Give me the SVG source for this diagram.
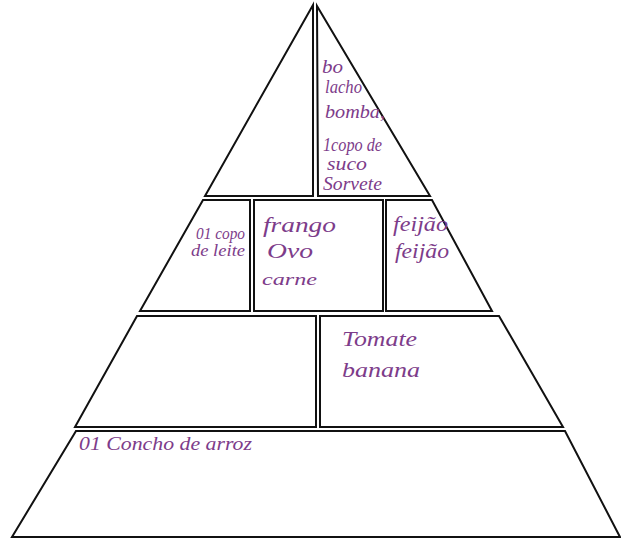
<svg xmlns="http://www.w3.org/2000/svg" width="621" height="540" viewBox="0 0 621 540">
<style>
.s{fill:none;stroke:#111;stroke-width:2;stroke-linejoin:miter}
.t{font-family:"Liberation Serif","DejaVu Serif",serif;font-style:italic;fill:#7d3c8a;font-size:17px}
.b{font-size:19px}
</style>
<rect width="621" height="540" fill="#fff"/>
<g id="tier1-left"><path class="s" d="M313,5 L205,196 L313,196 Z"/></g>
<g id="tier1-right"><path class="s" d="M317,6 L430,196 L318,196 Z"/>
<text class="t b" x="322" y="73" textLength="21" lengthAdjust="spacingAndGlyphs">bo</text>
<text class="t b" x="325" y="93" textLength="37" lengthAdjust="spacingAndGlyphs">lacho</text>
<text class="t b" x="325" y="118" textLength="60" lengthAdjust="spacingAndGlyphs">bomba,</text>
<text class="t b" x="323" y="151" textLength="59" lengthAdjust="spacingAndGlyphs">1copo de</text>
<text class="t b" x="327" y="170" textLength="40" lengthAdjust="spacingAndGlyphs">suco</text>
<text class="t b" x="323" y="190" textLength="59" lengthAdjust="spacingAndGlyphs">Sorvete</text>
</g>
<g id="tier2-left"><path class="s" d="M203,200 L250,200 L250,311 L140,311 Z"/>
<text class="t" x="196" y="239" textLength="49" lengthAdjust="spacingAndGlyphs">01 copo</text>
<text class="t" x="191" y="256" textLength="54" lengthAdjust="spacingAndGlyphs">de leite</text>
</g>
<g id="tier2-middle"><rect class="s" x="254" y="200" width="129" height="111"/>
<text class="t" x="263" y="232" textLength="73" lengthAdjust="spacingAndGlyphs" style="font-size:21px">frango</text>
<text class="t" x="267" y="258" textLength="46" lengthAdjust="spacingAndGlyphs" style="font-size:21px">Ovo</text>
<text class="t" x="262" y="285" textLength="55" lengthAdjust="spacingAndGlyphs">carne</text>
</g>
<g id="tier2-right"><path class="s" d="M386,200 L432,200 L492,311 L386,311 Z"/>
<text class="t" x="393" y="231" textLength="55" lengthAdjust="spacingAndGlyphs" style="font-size:20px">feijão</text>
<text class="t" x="395" y="258" textLength="54" lengthAdjust="spacingAndGlyphs" style="font-size:20px">feijão</text>
</g>
<g id="tier3-left"><path class="s" d="M137,316 L316,316 L316,427 L75,427 Z"/></g>
<g id="tier3-right"><path class="s" d="M320,316 L499,316 L563,427 L320,427 Z"/>
<text class="t" x="342" y="346" textLength="75" lengthAdjust="spacingAndGlyphs" style="font-size:20px">Tomate</text>
<text class="t" x="342" y="377" textLength="78" lengthAdjust="spacingAndGlyphs" style="font-size:20px">banana</text>
</g>
<g id="tier4"><path class="s" d="M76,431 L565,431 L620,537 L12,537 Z"/>
<text class="t" x="79" y="450" textLength="173" lengthAdjust="spacingAndGlyphs" style="font-size:18px">01 Concho de arroz</text>
</g>
<g id="connectors"></g>
</svg>
